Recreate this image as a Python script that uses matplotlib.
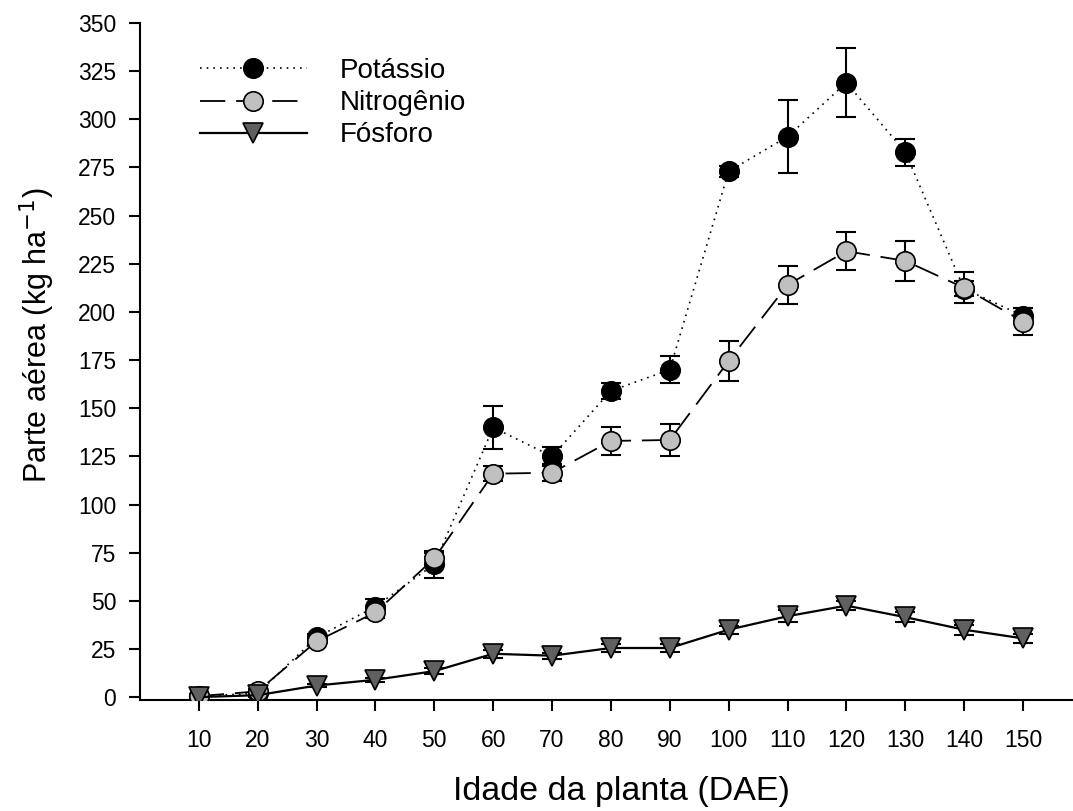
import matplotlib
matplotlib.use("Agg")
import matplotlib.pyplot as plt

plt.rcParams['font.family'] = ['Liberation Sans', 'DejaVu Sans']

dae = [10, 20, 30, 40, 50, 60, 70, 80, 90, 100, 110, 120, 130, 140, 150]

potassio = [0.5, 2, 31, 47, 69, 140, 125, 159, 170, 273, 291, 319, 283, 212, 198]
potassio_err = [1, 1, 2, 4, 7, 11, 5, 4, 7, 3, 19, 18, 7, 4, 4]

nitrogenio = [0.5, 3, 29, 44, 72, 116, 116.5, 133, 133.5, 174.5, 214, 231.5, 226.5, 212.5, 195]
nitrogenio_err = [1, 1, 2, 3, 3, 4, 4.5, 7.5, 8.5, 10.5, 10, 10, 10.5, 8, 7]

fosforo = [0, 1, 6, 9, 13.5, 22.5, 21.5, 25.5, 25.5, 35, 42, 47.5, 41.5, 35, 30.5]
fosforo_err = [1, 1, 1, 1, 1.5, 2, 1.5, 2, 2, 2, 3, 2.5, 2.5, 2.5, 2.5]

yticks = [0, 25, 50, 75, 100, 125, 150, 175, 200, 225, 250, 275, 300, 325, 350]

fig = plt.figure(figsize=(10.73, 8.11), dpi=100)
ax = fig.add_axes([140/1073, 111/811, 1 - 140/1073, 677/811])

ms = 14
eb = dict(fmt='none', ecolor='black', elinewidth=1.5, capsize=7, capthick=1.5, zorder=2)
ax.errorbar(dae, fosforo, yerr=fosforo_err, **eb)
ax.errorbar(dae, potassio, yerr=potassio_err, **eb)
ax.errorbar(dae, nitrogenio, yerr=nitrogenio_err, **eb)

ax.plot(dae, potassio, linestyle=(0, (1, 3)), color='black', linewidth=1.2,
        marker='o', markersize=ms, markerfacecolor='black', markeredgecolor='black',
        markeredgewidth=1.2, label='Potássio', zorder=3)
ax.plot(dae, nitrogenio, linestyle=(0, (14, 6)), color='black', linewidth=1.3,
        marker='o', markersize=ms, markerfacecolor='#c0c0c0', markeredgecolor='black',
        markeredgewidth=1.2, label='Nitrogênio', zorder=4)
ax.plot(dae, fosforo, linestyle='-', color='black', linewidth=1.6,
        marker='v', markersize=ms + 1, markerfacecolor='#606060', markeredgecolor='black',
        markeredgewidth=1.2, label='Fósforo', zorder=5)

ax.set_xlim(0, 158.5)
ax.set_ylim(-1.5, 350)
ax.set_xticks(dae)
ax.set_xticklabels([str(v) for v in dae])
ax.set_yticks(yticks)
ax.set_yticklabels([str(v) for v in yticks])

for s in ['top', 'right']:
    ax.spines[s].set_visible(False)
for s in ['left', 'bottom']:
    ax.spines[s].set_linewidth(1.5)

ax.tick_params(axis='both', direction='out', length=7.7, width=1.5, labelsize=16.5, pad=9.5)
ax.tick_params(axis='x', pad=13)

ax.set_xlabel('Idade da planta (DAE)', fontsize=24.5, labelpad=17.5)
ax.xaxis.label.set_x(0.5155)
ax.set_ylabel('Parte aérea (kg ha$^{-1}$)', fontsize=22, labelpad=15)
ax.yaxis.label.set_y(0.539)

leg = ax.legend(loc='upper left', bbox_to_anchor=(0.064, 0.948), frameon=False,
                fontsize=20, handlelength=3.85, handletextpad=1.2, labelspacing=0.22,
                borderpad=0.0, borderaxespad=0.0)

fig.savefig('out.png', dpi=100)
